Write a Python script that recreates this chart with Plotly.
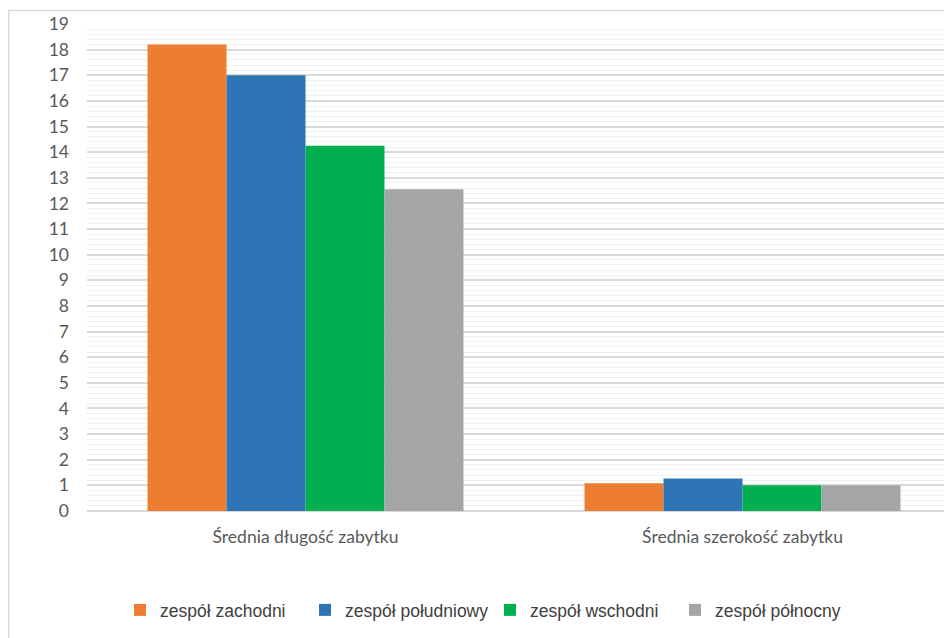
import plotly.graph_objects as go

categories = ["Średnia długość zabytku", "Średnia szerokość zabytku"]
series_names = ["zespół zachodni", "zespół południowy", "zespół wschodni", "zespół północny"]
zachodni = [18.2, 1.08]
poludniowy = [17.0, 1.27]
wschodni = [14.25, 1.0]
polnocny = [12.55, 1.0]
colors = ["#ED7D31", "#2E75B6", "#00B050", "#A5A5A5"]
y_ticks = list(range(0, 20))

# page body has an 8px margin, so figure coords = screen coords - 8
OFF = 8
W, H = 944, 630
ML, MR, MT, MB = 87 - OFF, 0, 24 - OFF, H - (511 - OFF)
pw = W - ML - MR
ph = H - MT - MB

fig = go.Figure()
for name, vals, col in zip(series_names, [zachodni, poludniowy, wschodni, polnocny], colors):
    fig.add_trace(go.Bar(x=categories, y=vals, name=name, marker=dict(color=col, line=dict(width=0))))

def px_to_paper_x(px):
    return (px - ML) / pw

def px_to_paper_y(py):
    return (H - MB - py) / ph

cat_w = 437.0
fig.update_layout(
    width=W, height=H,
    margin=dict(l=ML, r=MR, t=MT, b=MB),
    paper_bgcolor="white", plot_bgcolor="white",
    barmode="group", bargap=0.277, bargroupgap=0,
    font=dict(family="Lato, Carlito, sans-serif", color="#595959"),
    xaxis=dict(range=[-0.5, -0.5 + pw / cat_w], showgrid=False, showline=False, zeroline=False,
               tickfont=dict(size=17.5, color="#595959"), ticks="", ticklabelstandoff=13,
               fixedrange=True),
    yaxis=dict(range=[0, 19], tickvals=y_ticks, ticktext=[str(v) for v in y_ticks],
               showgrid=True, gridcolor="#d9d9d9", gridwidth=1.5,
               zeroline=True, zerolinecolor="#d9d9d9", zerolinewidth=2,
               minor=dict(dtick=0.2, showgrid=True, gridcolor="#f0f0f0", gridwidth=1.2),
               tickfont=dict(size=17.5, color="#595959"), ticks="", ticklabelstandoff=17,
               showline=False),
    legend=dict(orientation="h", x=px_to_paper_x(120 - OFF), xanchor="left",
                y=px_to_paper_y(610 - OFF), yanchor="middle",
                font=dict(family="Liberation Sans, Arial, sans-serif", size=17.5, color="#404040"),
                itemwidth=30, traceorder="normal", entrywidth=140, entrywidthmode="pixels"),
    shapes=[dict(type="rect", xref="paper", yref="paper",
                 x0=px_to_paper_x(0.75), x1=px_to_paper_x(W + 20),
                 y0=px_to_paper_y(H + 20), y1=px_to_paper_y(2.5),
                 line=dict(color="#d9d9d9", width=1.5), fillcolor="rgba(0,0,0,0)", layer="below")],
)
fig.write_html("out.html")
